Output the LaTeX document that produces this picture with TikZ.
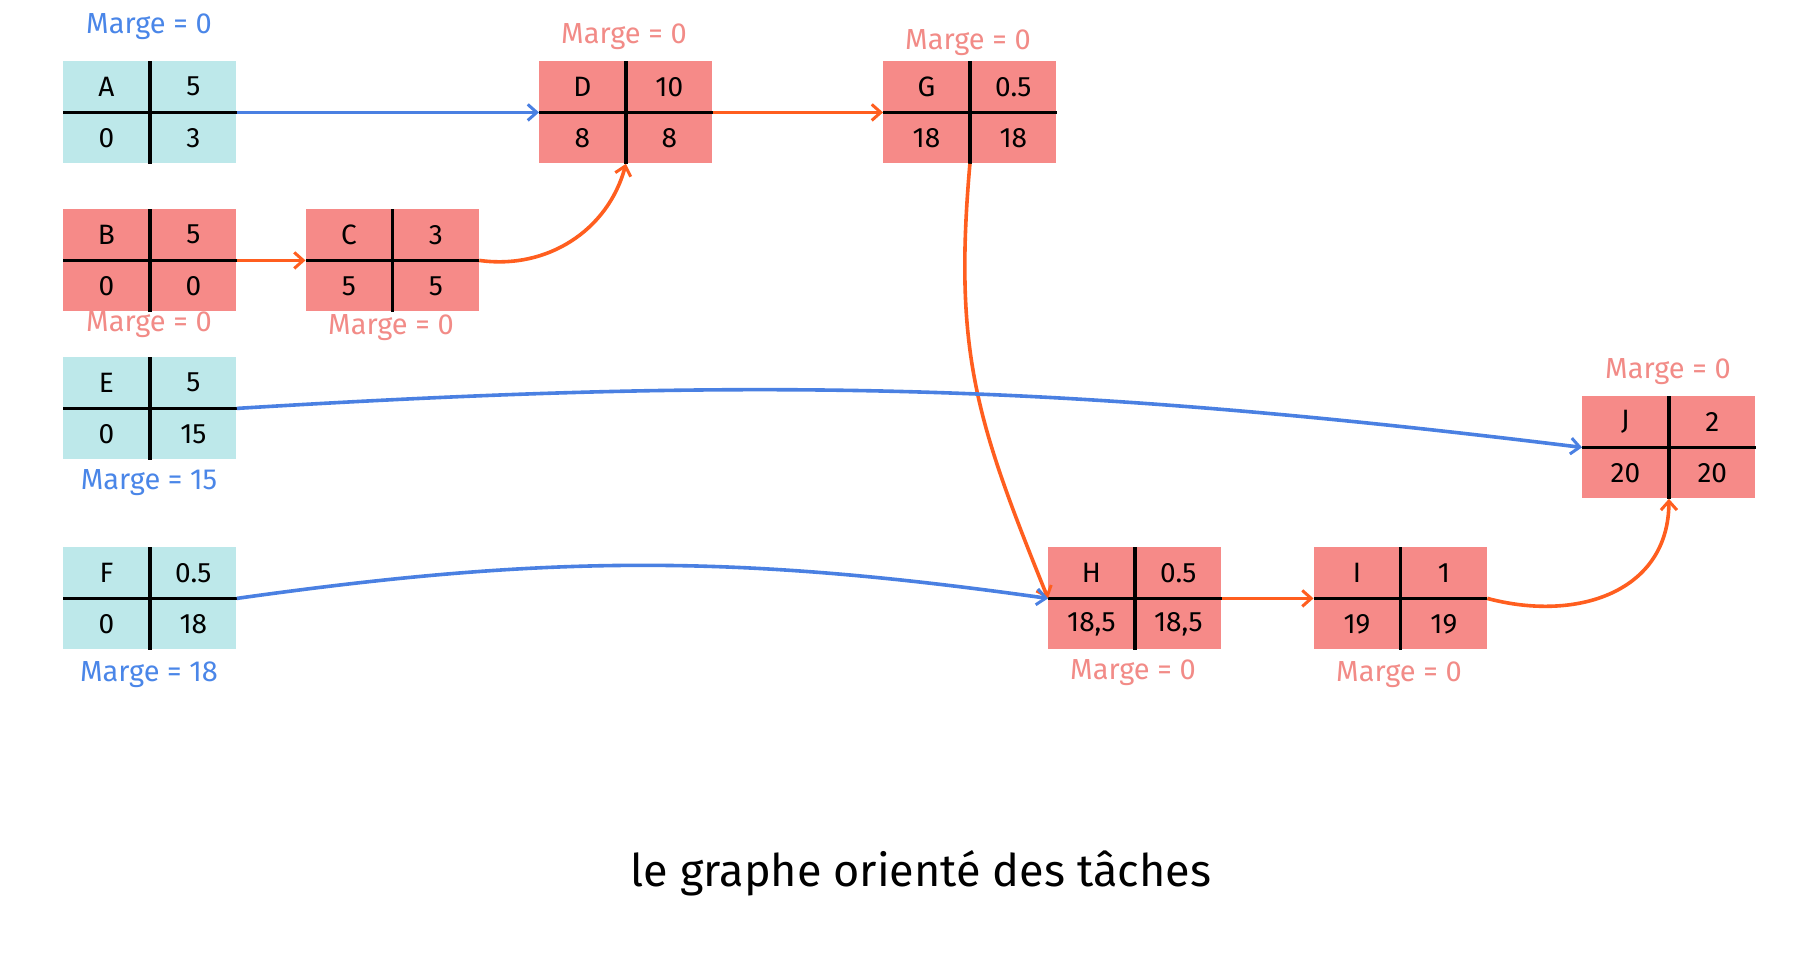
\documentclass[tikz,border=0pt]{standalone}
\usepackage{fontspec}
\setmainfont{Fira Sans}[Scale=1]
\usetikzlibrary{arrows.meta,calc}
\definecolor{cyanfill}{HTML}{BDE8EA}
\definecolor{pinkfill}{HTML}{F68A88}
\definecolor{blueline}{HTML}{4A80E2}
\definecolor{orangeline}{HTML}{FF5E1F}
\definecolor{bluetext}{HTML}{4A86E8}
\definecolor{pinktext}{HTML}{F28B87}
\tikzset{
  taskrect/.style={draw=none, minimum width=86.5pt, minimum height=51pt, inner sep=0pt, anchor=north west},
  divider/.style={line width=1.8pt, black},
  cell/.style={font=\fontsize{14}{16}\selectfont, inner sep=0pt},
  margeblue/.style={font=\fontsize{14.5}{16}\selectfont, text=bluetext},
  margepink/.style={font=\fontsize{14.5}{16}\selectfont, text=pinktext},
  bluearrow/.style={line width=1.8pt, blueline, -{Straight Barb[length=4.5pt,width=8pt,line width=1.5pt]}},
  orangearrow/.style={line width=1.8pt, orangeline, -{Straight Barb[length=4.5pt,width=8pt,line width=1.5pt]}},
}
\newcommand\taskbox[7]{%
  \node[taskrect, fill=#3] (#1) at (#2) {};
  \draw[divider] (#1.west) -- (#1.east);
  \draw[divider] (#1.north) -- (#1.south);
  \node[cell] (#1-tl) at ($(#1.center)!0.5!(#1.north west)$) {#4};
  \node[cell] (#1-tr) at ($(#1.center)!0.5!(#1.north east)$) {#5};
  \node[cell] (#1-bl) at ($(#1.center)!0.5!(#1.south west)$) {#6};
  \node[cell] (#1-br) at ($(#1.center)!0.5!(#1.south east)$) {#7};
}
\begin{document}
\begin{tikzpicture}[x=0.5pt,y=0.5pt]
\useasboundingbox (0,0) rectangle (1794,-971);
\fill[white] (0,0) rectangle (1794,-971);

\taskbox{A}{63,-61}{cyanfill}{A}{5}{0}{3}
\taskbox{B}{63,-209}{pinkfill}{B}{5}{0}{0}
\taskbox{C}{305.5,-209}{pinkfill}{C}{3}{5}{5}
\taskbox{D}{539,-61}{pinkfill}{D}{10}{8}{8}
\taskbox{G}{883,-61}{pinkfill}{G}{0.5}{18}{18}
\taskbox{E}{63,-357}{cyanfill}{E}{5}{0}{15}
\taskbox{F}{63,-547}{cyanfill}{F}{0.5}{0}{18}
\taskbox{H}{1048,-547}{pinkfill}{H}{0.5}{18,5}{18,5}
\taskbox{I}{1313.5,-547}{pinkfill}{I}{1}{19}{19}
\taskbox{J}{1582,-396}{pinkfill}{J}{2}{20}{20}

\node[margeblue] (A-m) at (149,-27) {Marge = 0};
\node[margepink] (B-m) at (149,-325) {Marge = 0};
\node[margepink] (C-m) at (391,-328) {Marge = 0};
\node[margepink] (D-m) at (624,-37) {Marge = 0};
\node[margepink] (G-m) at (968,-43) {Marge = 0};
\node[margeblue] (E-m) at (149,-483) {Marge = 15};
\node[margeblue] (F-m) at (149,-675) {Marge = 18};
\node[margepink] (H-m) at (1133,-673) {Marge = 0};
\node[margepink] (I-m) at (1399,-675) {Marge = 0};
\node[margepink] (J-m) at (1668,-372) {Marge = 0};

\node[font=\fontsize{22.5}{26}\selectfont] (title) at (921,-873) {le graphe orienté des tâches};

\draw[bluearrow] (A.east) -- (D.west);
\draw[orangearrow] (D.east) -- (G.west);
\draw[orangearrow] (B.east) -- (C.west);
\draw[orangearrow] (C.east) to[out=-8,in=-105] (D.south);
\draw[orangearrow] (G.south) to[out=-95,in=112,looseness=1.1] (H.west);
\draw[bluearrow] (E.east) to[out=3.5,in=173] (J.west);
\draw[bluearrow] (F.east) to[bend left=8] (H.west);
\draw[orangearrow] (H.east) -- (I.west);
\draw[orangearrow] (I.east) to[out=-15,in=-90,looseness=1.15] (J.south);
\end{tikzpicture}
\end{document}
